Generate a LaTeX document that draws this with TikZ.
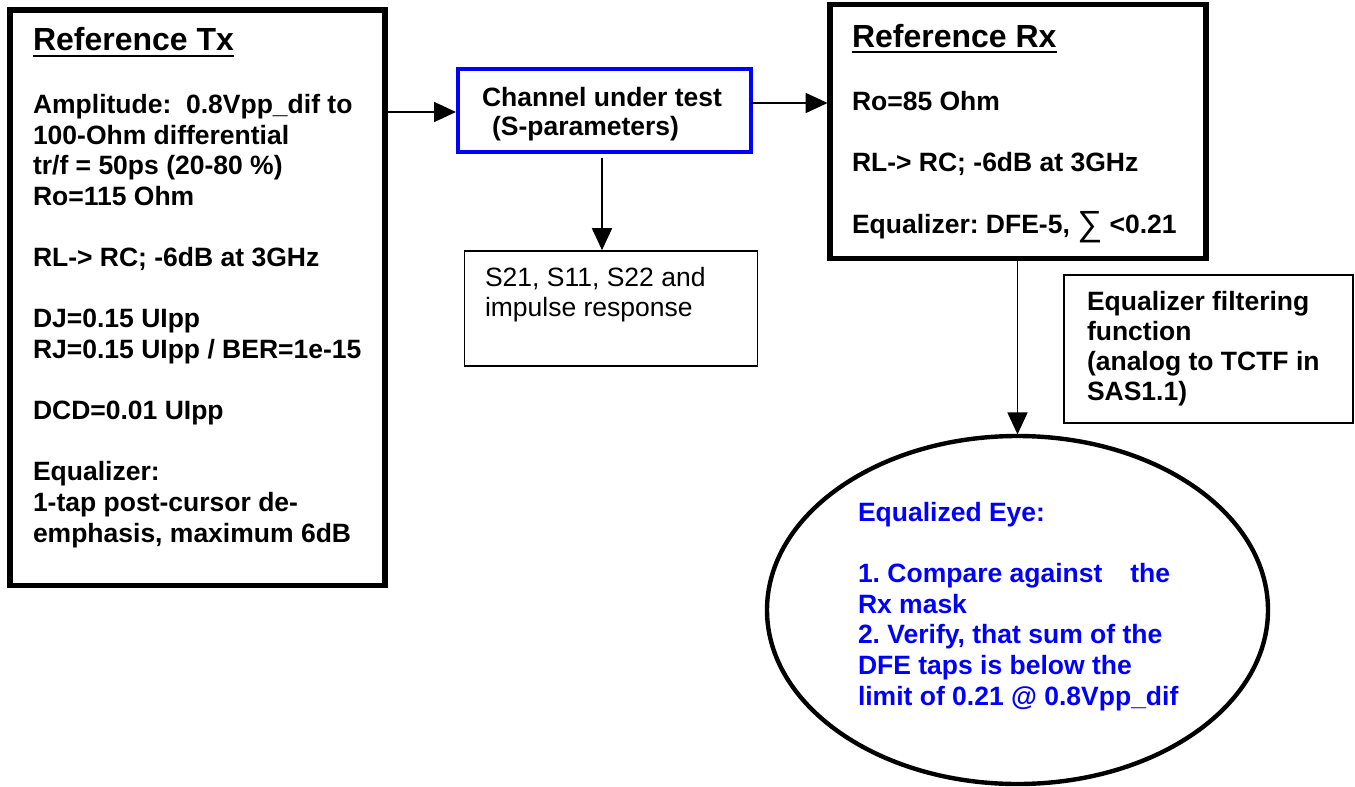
\documentclass[tikz,border=0pt]{standalone}
\usepackage{fontspec}
\setmainfont{Liberation Sans}
\usetikzlibrary{shapes.geometric,arrows.meta}
\definecolor{pureblue}{RGB}{0,0,255}
\frenchspacing
\begin{document}
\begin{tikzpicture}[x=0.5pt,y=-0.5pt,
  every node/.style={inner sep=0pt,outer sep=0pt},
  thickbox/.style={draw=black,line width=2.8pt,rectangle},
  bluebox/.style={draw=pureblue,line width=2.3pt,rectangle},
  thinbox/.style={draw=black,line width=0.9pt,rectangle},
  eyeshape/.style={draw=black,line width=2.2pt,ellipse},
  txt/.style={anchor=base west,align=left,font=\fontsize{13.25}{15.3}\selectfont\bfseries},
  plaintxt/.style={anchor=base west,align=left,font=\fontsize{13.25}{15.3}\selectfont},
  ttl/.style={anchor=base west,font=\fontsize{16}{19}\selectfont\bfseries},
  uline/.style={line width=1.1pt},
  arr/.style={line width=0.85pt,-{Triangle[length=11pt,width=10pt]}}
]
\useasboundingbox (0,0) rectangle (1355,787);

% boxes
\node[thickbox,minimum width=187.5pt,minimum height=287.75pt] (tx) at (197.5,297.75) {};
\node[thickbox,minimum width=188pt,minimum height=127pt] (rx) at (1018,131.5) {};
\node[bluebox,minimum width=146.5pt,minimum height=41.5pt] (ch) at (604.5,110.5) {};
\node[thinbox,minimum width=146.5pt,minimum height=57.5pt] (sp) at (611,308.5) {};
\node[thinbox,minimum width=144.5pt,minimum height=74pt] (eqf) at (1208.5,349) {};
\node[eyeshape,minimum width=250.5pt,minimum height=174pt] (eye) at (1017.5,610) {};

% Tx text (anchored at the baseline of its last line)
\node[ttl] (ttx) at (33,50) {Reference Tx};
\draw[uline] ([yshift=-2.8pt]ttx.base west) -- ([yshift=-2.8pt]ttx.base east);
\node[txt] (txbody) at (33,542) {Amplitude:\ \ 0.8Vpp\_dif to\\
100-Ohm differential\\
tr/f = 50ps (20-80 \%)\\
Ro=115 Ohm\\[15.3pt]
RL-> RC; -6dB at 3GHz\\[15.3pt]
DJ=0.15 UIpp\\
RJ=0.15 UIpp / BER=1e-15\\[15.3pt]
DCD=0.01 UIpp\\[15.3pt]
Equalizer:\\
1-tap post-cursor de-\\
emphasis, maximum 6dB};

% Channel text
\node[txt] (chtext) at (482,135) {Channel under test\\[-0.8pt]
\hspace*{5pt}(S-parameters)};

% S-parameter box text
\node[plaintxt] (sptext) at (485,316) {S21, S11, S22 and\\[-0.3pt]
impulse response};

% Rx text
\node[ttl] (trx) at (852,47) {Reference Rx};
\draw[uline] ([yshift=-2.6pt]trx.base west) -- ([yshift=-2.6pt]trx.base east);
\node[txt] (rxbody) at (852,233) {Ro=85 Ohm\\[15.3pt]
RL-> RC; -6dB at 3GHz\\[15.3pt]
Equalizer: DFE-5, \raisebox{-1pt}{\fontsize{17.5}{15}\selectfont\mdseries ∑} <0.21};

% Equalizer filtering text
\node[txt] (eqftext) at (1087,400) {Equalizer filtering\\[-0.3pt]
function\\[-0.3pt]
(analog to TCTF in\\[-0.3pt]
SAS1.1)};

% Eye text
\node[txt,text=pureblue] (eyetext) at (858,705) {Equalized Eye:\\[15.3pt]
1. Compare against\hspace{1.05em}the\\
Rx mask\\
2. Verify, that sum of the\\
DFE taps is below the\\
limit of 0.21 @ 0.8Vpp\_dif};

% connectors
\draw[arr,shorten >=1pt] (tx.east |- 0,112) -- (ch.west |- 0,112);
\draw[arr,shorten >=1.2pt] (ch.east |- 0,103) -- (rx.west |- 0,103);
\draw[arr,shorten <=2.8pt,shorten >=0.4pt] (ch.south -| 602,0) -- (sp.north -| 602,0);
\draw[arr,shorten >=0.8pt] (rx.south -| eye.north) -- (eye.north);
\end{tikzpicture}
\end{document}
